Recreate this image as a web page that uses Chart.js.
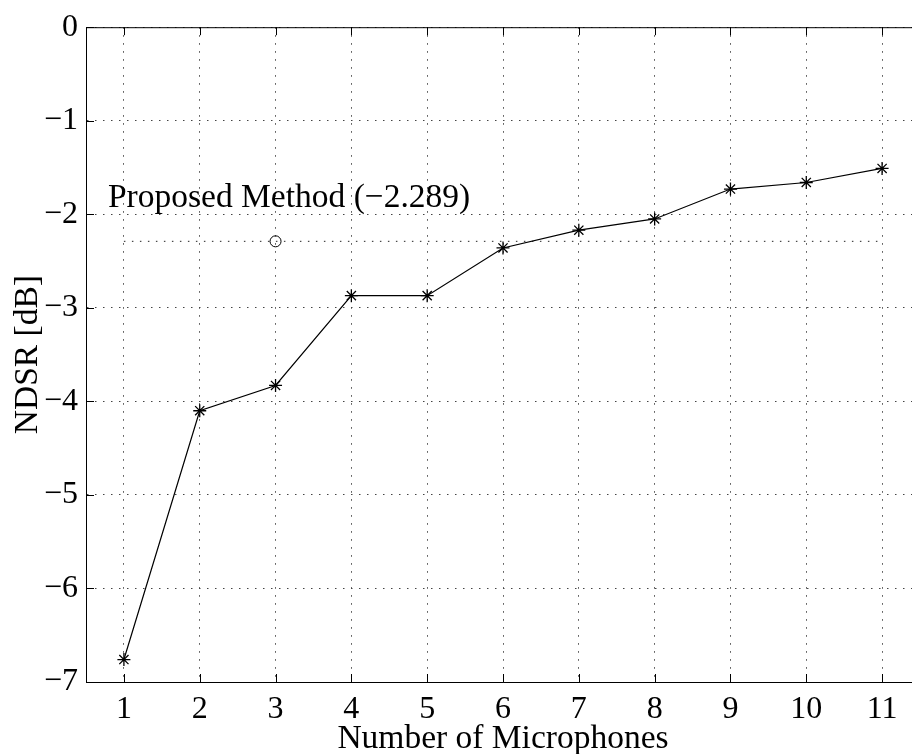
<!DOCTYPE html>
<html>
<head>
<meta charset="utf-8">
<script src="https://cdn.jsdelivr.net/npm/chart.js@4.4.1/dist/chart.umd.min.js"></script>
<style>
html,body{margin:0;padding:0;background:#fff;overflow:hidden;width:912px;height:754px;}
canvas{display:block;}
</style>
</head>
<body>
<canvas id="c" width="920" height="754"></canvas>
<script>
// ---- data ----
const microphones = [1, 2, 3, 4, 5, 6, 7, 8, 9, 10, 11];
const ndsrValues = [-6.76, -4.10, -3.83, -2.87, -2.87, -2.36, -2.17, -2.05, -1.73, -1.66, -1.51];
const proposedX = [3];
const proposedValue = -2.289;
const referenceLineX = [1, 11];
const xTickValues = [1, 2, 3, 4, 5, 6, 7, 8, 9, 10, 11];
const xTickLabels = ['1', '2', '3', '4', '5', '6', '7', '8', '9', '10', '11'];
const yTickValues = [0, -1, -2, -3, -4, -5, -6, -7];
const yTickLabels = ['0', '\u22121', '\u22122', '\u22123', '\u22124', '\u22125', '\u22126', '\u22127'];
const annotationText = 'Proposed Method (\u22122.289)';
const annotationPos = [0.79, -1.92];
const xTitle = 'Number of Microphones';
const yTitle = 'NDSR [dB]';

const FONT = '"Liberation Serif", "Times New Roman", serif';

const boxPlugin = {
  id: 'boxPlugin',
  afterDatasetsDraw(chart) {
    const {ctx, chartArea: a, scales: {x, y}} = chart;
    ctx.save();
    ctx.strokeStyle = '#000';
    ctx.lineWidth = 1;
    // top border
    ctx.beginPath();
    ctx.moveTo(a.left, a.top + 0.5);
    ctx.lineTo(a.right, a.top + 0.5);
    ctx.stroke();
    const tl = 8;
    ctx.beginPath();
    xTickValues.forEach(v => {
      const px = Math.round(x.getPixelForValue(v)) + 0.5;
      ctx.moveTo(px, a.bottom); ctx.lineTo(px, a.bottom - tl);
      ctx.moveTo(px, a.top); ctx.lineTo(px, a.top + tl);
    });
    yTickValues.forEach(v => {
      const py = Math.round(y.getPixelForValue(v)) + 0.5;
      ctx.moveTo(a.left, py); ctx.lineTo(a.left + tl, py);
    });
    ctx.stroke();
    // annotation text
    ctx.fillStyle = '#000';
    ctx.font = '33.5px ' + FONT;
    ctx.textAlign = 'left';
    ctx.textBaseline = 'alphabetic';
    ctx.fillText(annotationText, x.getPixelForValue(annotationPos[0]), y.getPixelForValue(annotationPos[1]));
    ctx.restore();
  }
};

new Chart(document.getElementById('c'), {
  type: 'line',
  data: {
    datasets: [
      {
        data: microphones.map((m, i) => ({x: m, y: ndsrValues[i]})),
        borderColor: '#000',
        borderWidth: 1.2,
        pointStyle: 'star',
        pointRadius: 6.5,
        pointBorderWidth: 1.3,
        pointBorderColor: '#000',
        pointBackgroundColor: '#000',
        fill: false,
        tension: 0
      },
      {
        data: referenceLineX.map(v => ({x: v, y: proposedValue})),
        borderColor: '#222',
        borderWidth: 1,
        borderDash: [1.5, 6.5],
        pointRadius: 0,
        fill: false
      },
      {
        data: proposedX.map(v => ({x: v, y: proposedValue})),
        showLine: false,
        pointStyle: 'circle',
        pointRadius: 5.5,
        pointBorderWidth: 1,
        pointBorderColor: '#000',
        pointBackgroundColor: 'rgba(0,0,0,0)'
      }
    ]
  },
  options: {
    responsive: false,
    animation: false,
    devicePixelRatio: 1,
    layout: {autoPadding: false, padding: {left: 0, top: 24, right: 0, bottom: 0}},
    plugins: {legend: {display: false}, tooltip: {enabled: false}},
    scales: {
      x: {
        type: 'linear',
        min: 0.5,
        max: 11.5,
        afterBuildTicks: s => { s.ticks = xTickValues.map(v => ({value: v})); },
        afterFit: s => { s.height = 72; s.paddingLeft = 0; s.paddingRight = 0; },
        ticks: {
          autoSkip: false,
          maxRotation: 0,
          padding: 8,
          color: '#000',
          font: {family: FONT, size: 32},
          callback: (v) => xTickLabels[xTickValues.indexOf(v)]
        },
        grid: {color: '#444', lineWidth: 1, drawTicks: false},
        border: {display: true, color: '#000', width: 1, dash: [1.5, 6.5]},
        title: {display: true, text: xTitle, color: '#000', font: {family: FONT, size: 33.5, lineHeight: 0.9}, padding: 0}
      },
      y: {
        type: 'linear',
        min: -7,
        max: 0,
        afterBuildTicks: s => { s.ticks = yTickValues.map(v => ({value: v})); },
        afterFit: s => { s.width = 86; },
        ticks: {
          padding: 8,
          color: '#000',
          font: {family: FONT, size: 32},
          callback: (v) => yTickLabels[yTickValues.indexOf(v)]
        },
        grid: {color: '#444', lineWidth: 1, drawTicks: false},
        border: {display: true, color: '#000', width: 1, dash: [1.5, 6.5]},
        title: {display: true, text: yTitle, color: '#000', font: {family: FONT, size: 33.5, lineHeight: 1}, padding: {top: 11, bottom: 0}}
      }
    }
  },
  plugins: [boxPlugin]
});
</script>
</body>
</html>
